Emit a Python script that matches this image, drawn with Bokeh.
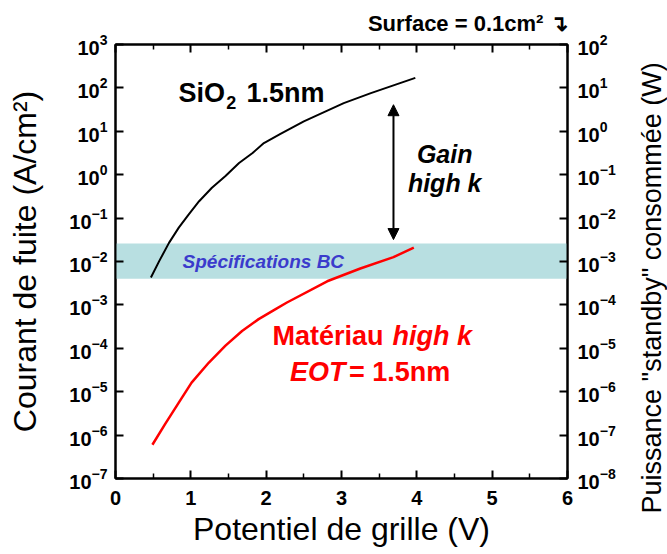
import numpy as np
from bokeh.plotting import figure
from bokeh.layouts import row
from bokeh.models import (LogAxis, LinearAxis, Range1d, LogScale, FixedTicker,
                          LogTickFormatter, Label, Arrow, NormalHead, BoxAnnotation, Title)
from bokeh.embed import file_html
from bokeh.resources import INLINE

# ---------------- data ----------------
x_ticks = [0, 1, 2, 3, 4, 5, 6]
x_minor_ticks = [0.5, 1.5, 2.5, 3.5, 4.5, 5.5]
y_left_ticks = [1e-7, 1e-6, 1e-5, 1e-4, 1e-3, 1e-2, 1e-1, 1e0, 1e1, 1e2, 1e3]
y_right_ticks = [1e-8, 1e-7, 1e-6, 1e-5, 1e-4, 1e-3, 1e-2, 1e-1, 1e0, 1e1, 1e2]

# SiO2 1.5 nm leakage current (A/cm²) vs gate voltage (V)
sio2_v = [0.47, 0.58, 0.71, 0.84, 0.97, 1.11, 1.28, 1.46, 1.64, 1.82, 1.97,
          2.19, 2.5, 3.03, 3.39, 3.98]
sio2_j = [4.27e-3, 1.02e-2, 2.69e-2, 6.03e-2, 0.120, 0.245, 0.50, 0.93, 1.86, 3.16,
          5.37, 8.7, 17.0, 44.7, 75.9, 170]

# high-k material, EOT = 1.5 nm
highk_v = [0.49, 0.66, 0.84, 1.01, 1.24, 1.46, 1.68, 1.90, 2.12, 2.27, 2.81, 3.25,
           3.69, 3.96]
highk_j = [6.0e-7, 1.82e-6, 5.6e-6, 1.62e-5, 4.7e-5, 1.15e-4, 2.5e-4, 4.7e-4, 7.9e-4,
           1.12e-3, 3.5e-3, 6.9e-3, 1.26e-2, 2.1e-2]

spec_band = [4e-3, 2.6e-2]          # "Spécifications BC" band (A/cm²)
gain_arrow_v = 3.69
gain_arrow_j = [0.032, 41]

FONT = "Liberation Sans"
PX_PER_DECADE = 43.5
BORDER_TOP, BORDER_BOTTOM = 43, 76

p = figure(width=622, height=554, x_range=Range1d(0, 6), y_range=Range1d(1e-7, 1e3),
           y_axis_type="log", output_backend="svg", toolbar_location=None,
           min_border_left=115, min_border_right=55,
           min_border_top=BORDER_TOP, min_border_bottom=BORDER_BOTTOM)
p.grid.visible = False
p.outline_line_color = "black"
p.outline_line_width = 2
p.background_fill_color = "white"
p.border_fill_color = "white"

p.extra_y_ranges = {"power": Range1d(1e-8, 1e2)}
p.extra_y_scales = {"power": LogScale()}


def style_axis(ax, labels=True):
    ax.axis_line_width = 2
    ax.axis_line_color = "black"
    ax.major_tick_in = 8
    ax.major_tick_out = 0
    ax.major_tick_line_width = 2
    ax.minor_tick_in = 5
    ax.minor_tick_out = 0
    ax.minor_tick_line_width = 1.5
    ax.major_label_text_font = FONT
    ax.major_label_text_font_style = "bold"
    ax.major_label_text_font_size = "20px" if labels else "0px"
    ax.major_label_text_color = "black"
    ax.axis_label_text_font = FONT
    ax.axis_label_text_font_style = "normal"
    ax.axis_label_text_color = "black"


xa = p.xaxis[0]
xa.ticker = FixedTicker(ticks=x_ticks, minor_ticks=x_minor_ticks)
style_axis(xa)
xa.major_label_standoff = 12
xa.axis_label = "Potentiel de grille (V)"
xa.axis_label_text_font_size = "32px"
xa.axis_label_standoff = 3

ya = p.yaxis[0]
ya.ticker = FixedTicker(ticks=y_left_ticks)
ya.formatter = LogTickFormatter()
style_axis(ya)
ya.minor_tick_line_color = None
ya.major_label_standoff = 8
ya.axis_label = "Courant de fuite (A/cm²)"
ya.axis_label_text_font_size = "32px"
ya.axis_label_standoff = 23

ra = LogAxis(y_range_name="power", ticker=FixedTicker(ticks=y_right_ticks),
             formatter=LogTickFormatter())
style_axis(ra)
ra.minor_tick_line_color = None
ra.major_label_standoff = 10
p.add_layout(ra, "right")

ta = LinearAxis(ticker=FixedTicker(ticks=x_ticks, minor_ticks=x_minor_ticks))
style_axis(ta, labels=False)
ta.major_label_standoff = 0
p.add_layout(ta, "above")

p.add_layout(Title(text="Surface = 0.1cm² ↴", align="right", offset=0, standoff=17,
                   text_font=FONT, text_font_size="22px", text_font_style="bold",
                   text_color="black"), "above")

# band
p.add_layout(BoxAnnotation(bottom=spec_band[0], top=spec_band[1], fill_color="#b8dfe1",
                           fill_alpha=1, line_color=None, level="underlay"))

# curves
p.line(sio2_v, sio2_j, line_color="black", line_width=2)
p.line(highk_v, highk_j, line_color="#ff0000", line_width=2.5)

# gain arrow
p.add_layout(Arrow(start=NormalHead(size=11, fill_color="black", line_color="black"),
                   end=NormalHead(size=11, fill_color="black", line_color="black"),
                   x_start=gain_arrow_v, y_start=gain_arrow_j[0],
                   x_end=gain_arrow_v, y_end=gain_arrow_j[1],
                   line_width=2, line_color="black"))


def lab(x, logy, text, size, color="black", style="bold", align="left"):
    # baseline correction: Bokeh places the line box bottom at the anchor
    lift = 0.31 * size / PX_PER_DECADE
    p.add_layout(Label(x=x, y=10 ** (logy + lift), text=text, text_font=FONT,
                       text_font_size=f"{size}px", text_font_style=style,
                       text_color=color, text_align=align, text_baseline="alphabetic"))


lab(0.836, 1.69, "SiO", 27)
lab(1.47, 1.53, "2", 18)
lab(1.739, 1.69, "1.5nm", 27)

lab(4.37, 0.31, "Gain", 25, style="bold italic", align="center")
lab(4.37, -0.38, "high k", 25, style="bold italic", align="center")

lab(0.89, -2.14, "Spécifications BC", 19, color="#3b3bcc", style="bold italic")

lab(3.558, -3.90, "Matériau", 27, color="#ff0000", align="right")
lab(3.677, -3.90, "high k", 27, color="#ff0000", style="bold italic")
lab(3.053, -4.75, "EOT", 27, color="#ff0000", style="bold italic", align="right")
lab(3.10, -4.75, "= 1.5nm", 27, color="#ff0000")

# right-hand axis title, in a narrow companion panel so it reads bottom-to-top
p2 = figure(width=45, height=554, x_range=Range1d(0, 1), y_range=Range1d(0, 1),
            output_backend="svg", toolbar_location=None,
            x_axis_location=None, y_axis_location=None,
            min_border_left=44, min_border_right=0,
            min_border_top=BORDER_TOP, min_border_bottom=BORDER_BOTTOM)
p2.grid.visible = False
p2.outline_line_color = None
p2.border_fill_color = "white"
p2.background_fill_color = "white"
p2.add_layout(Title(text="Puissance \"standby\" consommée (W)", align="left", offset=-35,
                    standoff=0, text_font=FONT, text_font_size="27px",
                    text_font_style="normal", text_color="black"), "left")

layout = row(p, p2, spacing=0)
open("out.html", "w").write(file_html(layout, INLINE))
